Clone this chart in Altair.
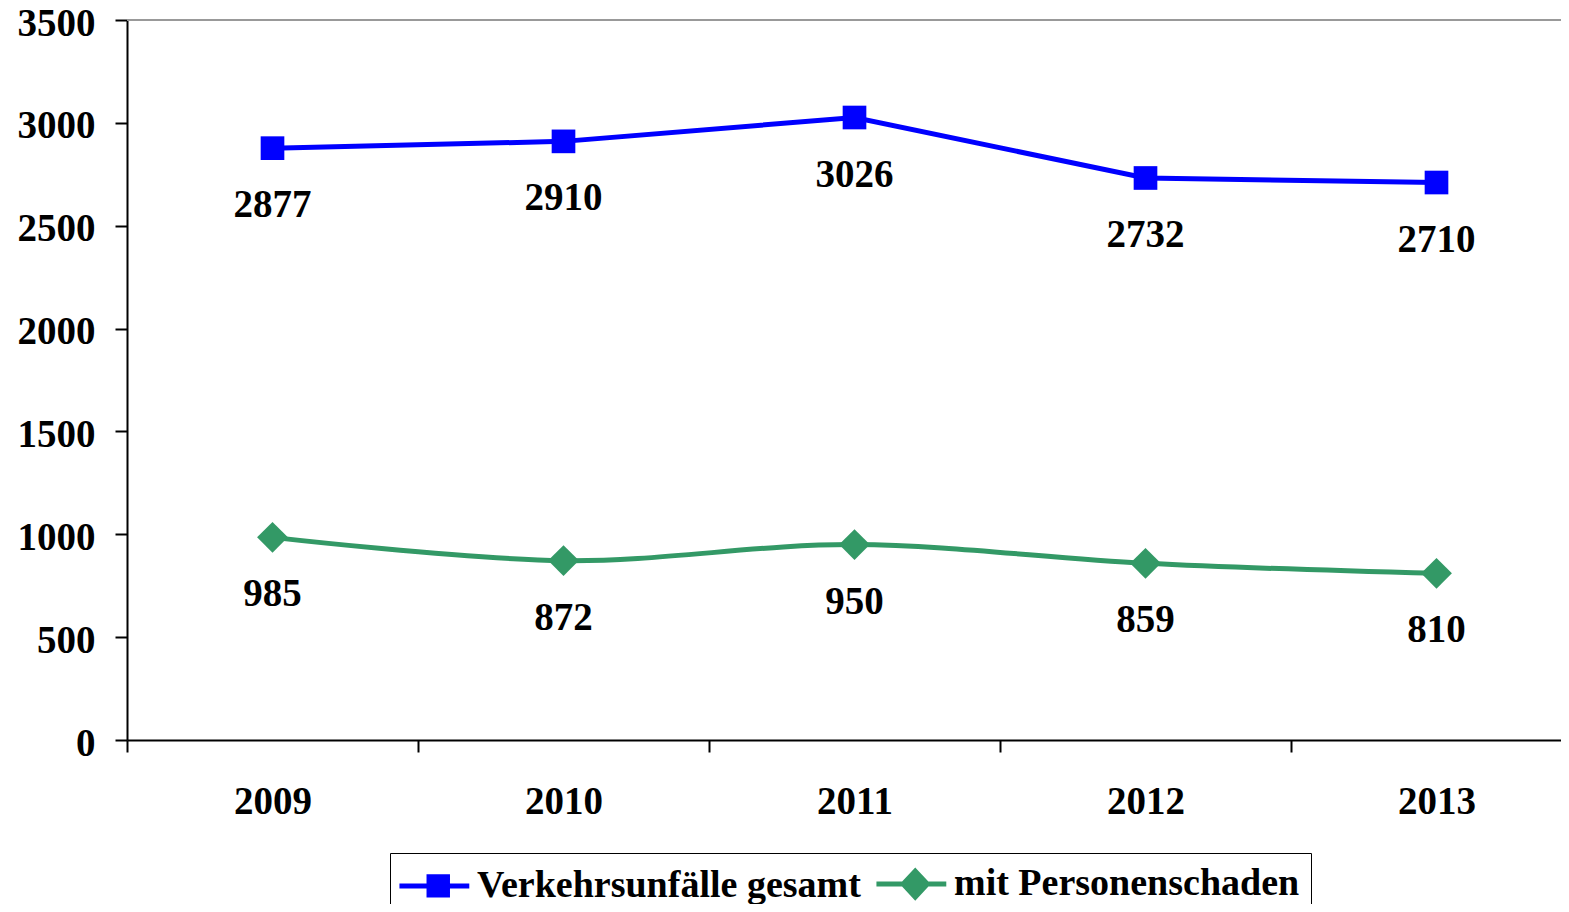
import altair as alt
import pandas as pd

years = ["2009", "2010", "2011", "2012", "2013"]
series_names = ["Verkehrsunfälle gesamt", "mit Personenschaden"]
total_values = [2877, 2910, 3026, 2732, 2710]
injury_values = [985, 872, 950, 859, 810]
colors = ["#0000FF", "#339966"]

rows = []
for i, y in enumerate(years):
    rows.append({"year": y, "pos": i + 0.5, "series": series_names[0], "value": total_values[i]})
    rows.append({"year": y, "pos": i + 0.5, "series": series_names[1], "value": injury_values[i]})
df = pd.DataFrame(rows)

W, H = 1434, 720
STEP = 291.0
FONT = "Liberation Serif"

year_arr = "[" + ",".join("'" + y + "'" for y in years) + "]"
x_scale = alt.Scale(domain=[0, W / STEP], nice=False, zero=False)
y_scale = alt.Scale(domain=[0, 3500], nice=False)
color_scale = alt.Scale(domain=series_names, range=colors)

x_enc = alt.X(
    "pos:Q",
    scale=x_scale,
    title=None,
    axis=alt.Axis(
        values=[0, 0.5, 1, 1.5, 2, 2.5, 3, 3.5, 4, 4.5],
        labelExpr="datum.value % 1 == 0 ? '' : " + year_arr + "[floor(datum.value)]",
        tickOpacity={"condition": {"test": "datum.value % 1 != 0", "value": 0}, "value": 1},
        grid=False,
        domainColor="black",
        domainWidth=2,
        tickColor="black",
        tickWidth=2,
        tickSize=12,
        labelFont=FONT,
        labelFontSize=39,
        labelFontWeight="bold",
        labelColor="black",
        labelPadding=30,
        labelFlush=False,
        labelOverlap=False,
    ),
)
y_enc = alt.Y(
    "value:Q",
    scale=y_scale,
    title=None,
    axis=alt.Axis(
        values=[0, 500, 1000, 1500, 2000, 2500, 3000, 3500],
        format="d",
        grid=False,
        domainColor="black",
        domainWidth=2,
        tickColor="black",
        tickWidth=2,
        tickSize=12,
        labelFont=FONT,
        labelFontSize=39,
        labelFontWeight="bold",
        labelColor="black",
        labelPadding=20,
        labelOffset=3,
        labelFlush=False,
        labelOverlap=False,
    ),
)

base = alt.Chart(df)

line_total = base.transform_filter(alt.datum.series == series_names[0]).mark_line(
    color=colors[0], strokeWidth=5
).encode(x=x_enc, y=y_enc)
line_injury = base.transform_filter(alt.datum.series == series_names[1]).mark_line(
    color=colors[1], strokeWidth=5, interpolate="catmull-rom"
).encode(x=x_enc, y=y_enc)

pts_total = base.transform_filter(alt.datum.series == series_names[0]).mark_point(
    shape="square", filled=True, color=colors[0], size=560, opacity=1
).encode(x=x_enc, y=y_enc)
pts_injury = base.transform_filter(alt.datum.series == series_names[1]).mark_point(
    shape="diamond", filled=True, color=colors[1], size=950, opacity=1
).encode(x=x_enc, y=y_enc)

labels = base.mark_text(
    font=FONT, fontSize=39, fontWeight="bold", color="black", dy=57, baseline="middle", align="center"
).encode(x=x_enc, y=y_enc, text="value:Q")

# legend symbols: a line with a solid marker, drawn with strokes only
sym_square = (
    "M-1.25,0H2.8"
    "M0.465,-0.535H1.535V0.535H0.465Z"
    "M0.465,-0.27H1.535M0.465,0.27H1.535"
)
sym_diamond = (
    "M-1.25,0H2.8"
    "M1,-0.75L1.7,0L1,0.75L0.3,0Z"
    "M0.533,-0.25H1.467M0.533,0.25H1.467"
    "M0.692,-0.42H1.308M0.692,0.42H1.308"
)

legend_layer = base.mark_point(filled=False, opacity=0, strokeWidth=5).encode(
    x=x_enc,
    y=y_enc,
    color=alt.Color(
        "series:N",
        scale=color_scale,
        title=None,
        legend=alt.Legend(
            orient="none",
            legendX=263,
            legendY=833,
            direction="horizontal",
            title=None,
            labelFont=FONT,
            labelFontSize=38,
            labelFontWeight="bold",
            labelColor="black",
            labelOffset=36,
            columnPadding=5,
            padding=11,
            strokeColor="black",
            symbolSize=1190,
            symbolStrokeWidth=5,
            symbolOpacity=1,
            symbolFillColor="transparent",
            labelLimit=0,
        ),
    ),
    shape=alt.Shape("series:N", scale=alt.Scale(domain=series_names, range=[sym_square, sym_diamond]), title=None),
)

top_rule = alt.Chart(pd.DataFrame({"k": [0]})).mark_rule(color="#999999", strokeWidth=2).encode(
    x=alt.value(0), x2=alt.value(W), y=alt.value(0)
)

chart = alt.layer(
    top_rule, line_total, line_injury, pts_total, pts_injury, labels, legend_layer
).properties(
    width=W,
    height=H,
    autosize=alt.AutoSizeParams(type="none"),
    padding={"left": 119, "top": 12, "right": 0, "bottom": 164},
).configure_view(stroke=None).configure(background="white")

chart.save("out.html", embed_options={"renderer": "svg", "actions": False})
